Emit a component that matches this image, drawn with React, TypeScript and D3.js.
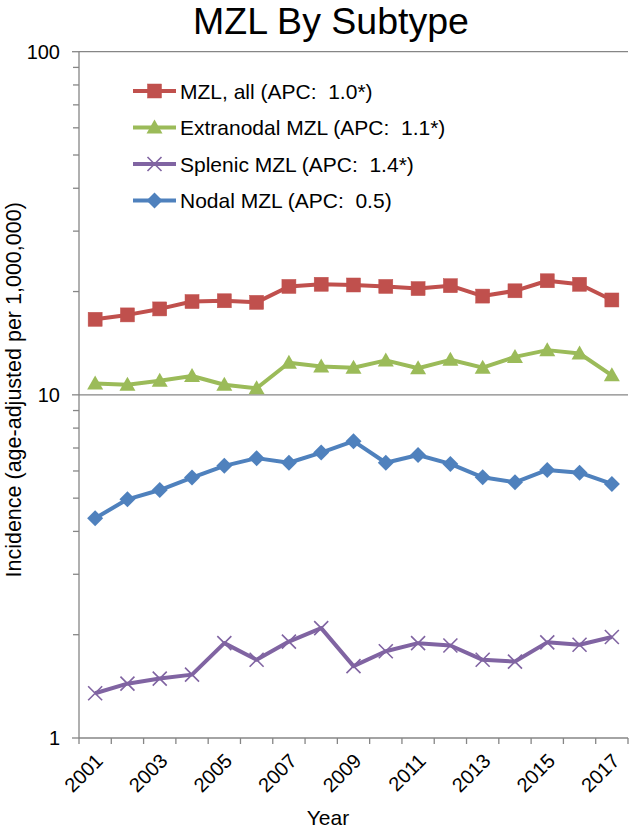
import React from "react";
import * as d3 from "d3";

const years = [2001, 2002, 2003, 2004, 2005, 2006, 2007, 2008, 2009, 2010, 2011, 2012, 2013, 2014, 2015, 2016, 2017];
const yearTickLabels = [2001, 2003, 2005, 2007, 2009, 2011, 2013, 2015, 2017];
const mzlAll = [16.6, 17.1, 17.8, 18.7, 18.8, 18.6, 20.7, 21.0, 20.9, 20.7, 20.4, 20.8, 19.4, 20.1, 21.5, 21.0, 18.9];
const extranodal = [10.8, 10.7, 11.0, 11.35, 10.7, 10.45, 12.4, 12.1, 12.0, 12.6, 11.95, 12.65, 12.0, 12.9, 13.5, 13.2, 11.4];
const splenic = [1.35, 1.44, 1.49, 1.53, 1.89, 1.69, 1.91, 2.09, 1.62, 1.79, 1.89, 1.86, 1.69, 1.67, 1.9, 1.87, 1.97];
const nodal = [4.37, 4.96, 5.28, 5.74, 6.21, 6.54, 6.34, 6.79, 7.33, 6.34, 6.68, 6.29, 5.75, 5.56, 6.04, 5.93, 5.5];
const yTickValues = [1, 10, 100];
const seriesNames = [
  "MZL, all (APC:  1.0*)",
  "Extranodal MZL (APC:  1.1*)",
  "Splenic MZL (APC:  1.4*)",
  "Nodal MZL (APC:  0.5)",
];

const W = 629;
const H = 830;
const FONT = "'Liberation Sans', Arial, sans-serif";

type Marker = "square" | "triangle" | "x" | "diamond";

function MarkerShape({ type, x, y, color }: { type: Marker; x: number; y: number; color: string }) {
  if (type === "square") {
    return <rect x={x - 7} y={y - 7} width={14} height={14} fill={color} stroke={color} strokeWidth={0.5} />;
  }
  if (type === "triangle") {
    return <path d={`M${x},${y - 8}L${x + 8},${y + 6}L${x - 8},${y + 6}Z`} fill={color} />;
  }
  if (type === "diamond") {
    return <path d={`M${x},${y - 8}L${x + 8},${y}L${x},${y + 8}L${x - 8},${y}Z`} fill={color} />;
  }
  return (
    <path
      d={`M${x - 7},${y - 7}L${x + 7},${y + 7}M${x - 7},${y + 7}L${x + 7},${y - 7}`}
      stroke={color}
      strokeWidth={1.6}
      fill="none"
    />
  );
}

export default function App() {
  const left = 79;
  const right = 628;
  const top = 51.7;
  const bottom = 738;
  const x = d3.scaleBand<number>().domain(years).range([left, right]).padding(0);
  const y = d3.scaleLog().domain([1, 100]).range([bottom, top]);
  const cx = (yr: number) => (x(yr) as number) + x.bandwidth() / 2;

  const series: { values: number[]; color: string; marker: Marker; name: string }[] = [
    { values: mzlAll, color: "#C0504D", marker: "square", name: seriesNames[0] },
    { values: extranodal, color: "#9BBB59", marker: "triangle", name: seriesNames[1] },
    { values: splenic, color: "#8064A2", marker: "x", name: seriesNames[2] },
    { values: nodal, color: "#4F81BD", marker: "diamond", name: seriesNames[3] },
  ];

  const line = d3
    .line<number>()
    .x((_, i) => cx(years[i]))
    .y((d) => y(d));

  const minorTicks: number[] = [];
  [1, 10].forEach((dec) => {
    for (let k = 2; k <= 9; k++) minorTicks.push(dec * k);
  });

  const axisColor = "#868686";
  const legendY = [91, 127.5, 164, 200.5];

  return (
    <svg width={W} height={H} style={{ position: "absolute", left: 0, top: 0, background: "#fff" }} fontFamily={FONT}>
      <rect x={0} y={0} width={W} height={H} fill="#fff" />
      <text x={331} y={34} textAnchor="middle" fontSize={37.5} fill="#000">
        MZL By Subtype
      </text>

      {/* gridlines at major ticks */}
      {yTickValues.map((v) => (
        <line key={"g" + v} x1={left} x2={right} y1={y(v)} y2={y(v)} stroke={axisColor} strokeWidth={1.3} />
      ))}
      {/* y axis */}
      <line x1={left} x2={left} y1={top} y2={bottom} stroke={axisColor} strokeWidth={1.3} />
      {yTickValues.map((v) => (
        <g key={"yt" + v}>
          <line x1={left - 7} x2={left} y1={y(v)} y2={y(v)} stroke={axisColor} strokeWidth={1.3} />
          <text x={left - 19} y={y(v)} dy="0.36em" textAnchor="end" fontSize={20} fill="#000">
            {v}
          </text>
        </g>
      ))}
      {minorTicks.map((v) => (
        <line key={"m" + v} x1={left - 6} x2={left} y1={y(v)} y2={y(v)} stroke={axisColor} strokeWidth={1.3} />
      ))}

      {/* x axis ticks */}
      {[...years, years[years.length - 1] + 1].map((yr, i) => {
        const xx = i < years.length ? (x(yr) as number) : right;
        return <line key={"xt" + yr} x1={xx} x2={xx} y1={bottom} y2={bottom + 6} stroke={axisColor} strokeWidth={1.3} />;
      })}
      {yearTickLabels.map((yr) => (
        <text
          key={"xl" + yr}
          transform={`translate(${cx(yr) + 4},${bottom + 19}) rotate(-45)`}
          textAnchor="end"
          dy="0.36em"
          fontSize={20}
          fill="#000"
        >
          {yr}
        </text>
      ))}

      <text x={328} y={825} textAnchor="middle" fontSize={21} fill="#000">
        Year
      </text>
      <text transform={`translate(21,${(top + bottom) / 2 - 5}) rotate(-90)`} textAnchor="middle" fontSize={21.5} fill="#000">
        Incidence (age-adjusted per 1,000,000)
      </text>

      {/* series */}
      {series.map((s) => (
        <g key={s.name}>
          <path d={line(s.values) || ""} fill="none" stroke={s.color} strokeWidth={4} strokeLinejoin="round" />
          {s.values.map((v, i) => (
            <MarkerShape key={i} type={s.marker} x={cx(years[i])} y={y(v)} color={s.color} />
          ))}
        </g>
      ))}

      {/* legend */}
      {series.map((s, i) => (
        <g key={"lg" + i}>
          <line x1={133} x2={176} y1={legendY[i]} y2={legendY[i]} stroke={s.color} strokeWidth={4} />
          <MarkerShape type={s.marker} x={154.5} y={legendY[i]} color={s.color} />
          <text x={180} y={legendY[i]} dy="0.36em" fontSize={21} fill="#000" style={{ whiteSpace: "pre" }}>
            {s.name}
          </text>
        </g>
      ))}
    </svg>
  );
}
